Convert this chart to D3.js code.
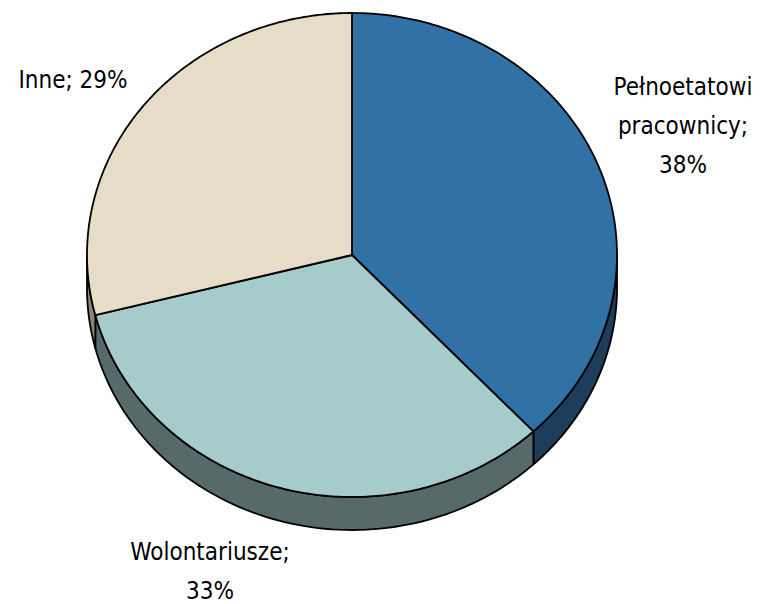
<!DOCTYPE html>
<html>
<head>
<meta charset="utf-8">
<script src="https://cdn.jsdelivr.net/npm/d3@7"></script>
<style>
  body { margin: 0; background: #fff; }
  text { font-family: "DejaVu Sans Condensed", "DejaVu Sans", sans-serif; font-size: 24px; fill: #000; }
</style>
</head>
<body>
<script>
// data
var categories = ["Pełnoetatowi pracownicy", "Wolontariusze", "Inne"];
var values = [38, 33, 29];
var labelLines = [["Pełnoetatowi", "pracownicy;", "38%"], ["Wolontariusze;", "33%"], ["Inne; 29%"]];

// style
var topColors = ["#3171a6", "#a5cbcb", "#e6dcc7"];
var sideColors = ["#1d3d5a", "#566b69", "#8a8476"];

var width = 761, height = 604;
var cx = 352, cy = 255, rx = 265, ry = 242, depth = 33;
// label centres (layout only)
var labelPos = [[683, 126], [210, 571], [73, 80]];
var lineH = 39;

var svg = d3.select("body").append("svg")
  .attr("width", width).attr("height", height);

var pie = d3.pie().sort(null).value(function(d){ return d; });
var arcs = pie(values);

function pt(a, dy) {
  return [cx + rx * Math.sin(a), cy - ry * Math.cos(a) + (dy || 0)];
}

// side walls (front half only, angle between pi/2 and 3pi/2)
var sides = svg.append("g");
arcs.forEach(function(d, i){
  var a0 = Math.max(d.startAngle, Math.PI / 2);
  var a1 = Math.min(d.endAngle, Math.PI * 1.5);
  if (a1 <= a0) return;
  var n = 80, top = [], bot = [];
  for (var k = 0; k <= n; k++) {
    var a = a0 + (a1 - a0) * k / n;
    top.push(pt(a));
    bot.push(pt(a, depth));
  }
  var pts = top.concat(bot.reverse());
  sides.append("path")
    .attr("d", d3.line()(pts) + "Z")
    .attr("fill", sideColors[i])
    .attr("stroke", "#000")
    .attr("stroke-width", 1.8)
    .attr("stroke-linejoin", "round");
});

// top faces
var tops = svg.append("g");
arcs.forEach(function(d, i){
  var n = 160, pts = [[cx, cy]];
  for (var k = 0; k <= n; k++) {
    pts.push(pt(d.startAngle + (d.endAngle - d.startAngle) * k / n));
  }
  tops.append("path")
    .attr("d", d3.line()(pts) + "Z")
    .attr("fill", topColors[i])
    .attr("stroke", "#000")
    .attr("stroke-width", 1.8)
    .attr("stroke-linejoin", "round");
});

// labels
labelLines.forEach(function(lines, i){
  var t = svg.append("text").attr("text-anchor", "middle");
  var y0 = labelPos[i][1] - (lines.length - 1) * lineH / 2;
  lines.forEach(function(s, j){
    t.append("tspan")
      .attr("x", labelPos[i][0])
      .attr("y", y0 + j * lineH)
      .attr("dy", "0.35em")
      .text(s);
  });
});
</script>
</body>
</html>
